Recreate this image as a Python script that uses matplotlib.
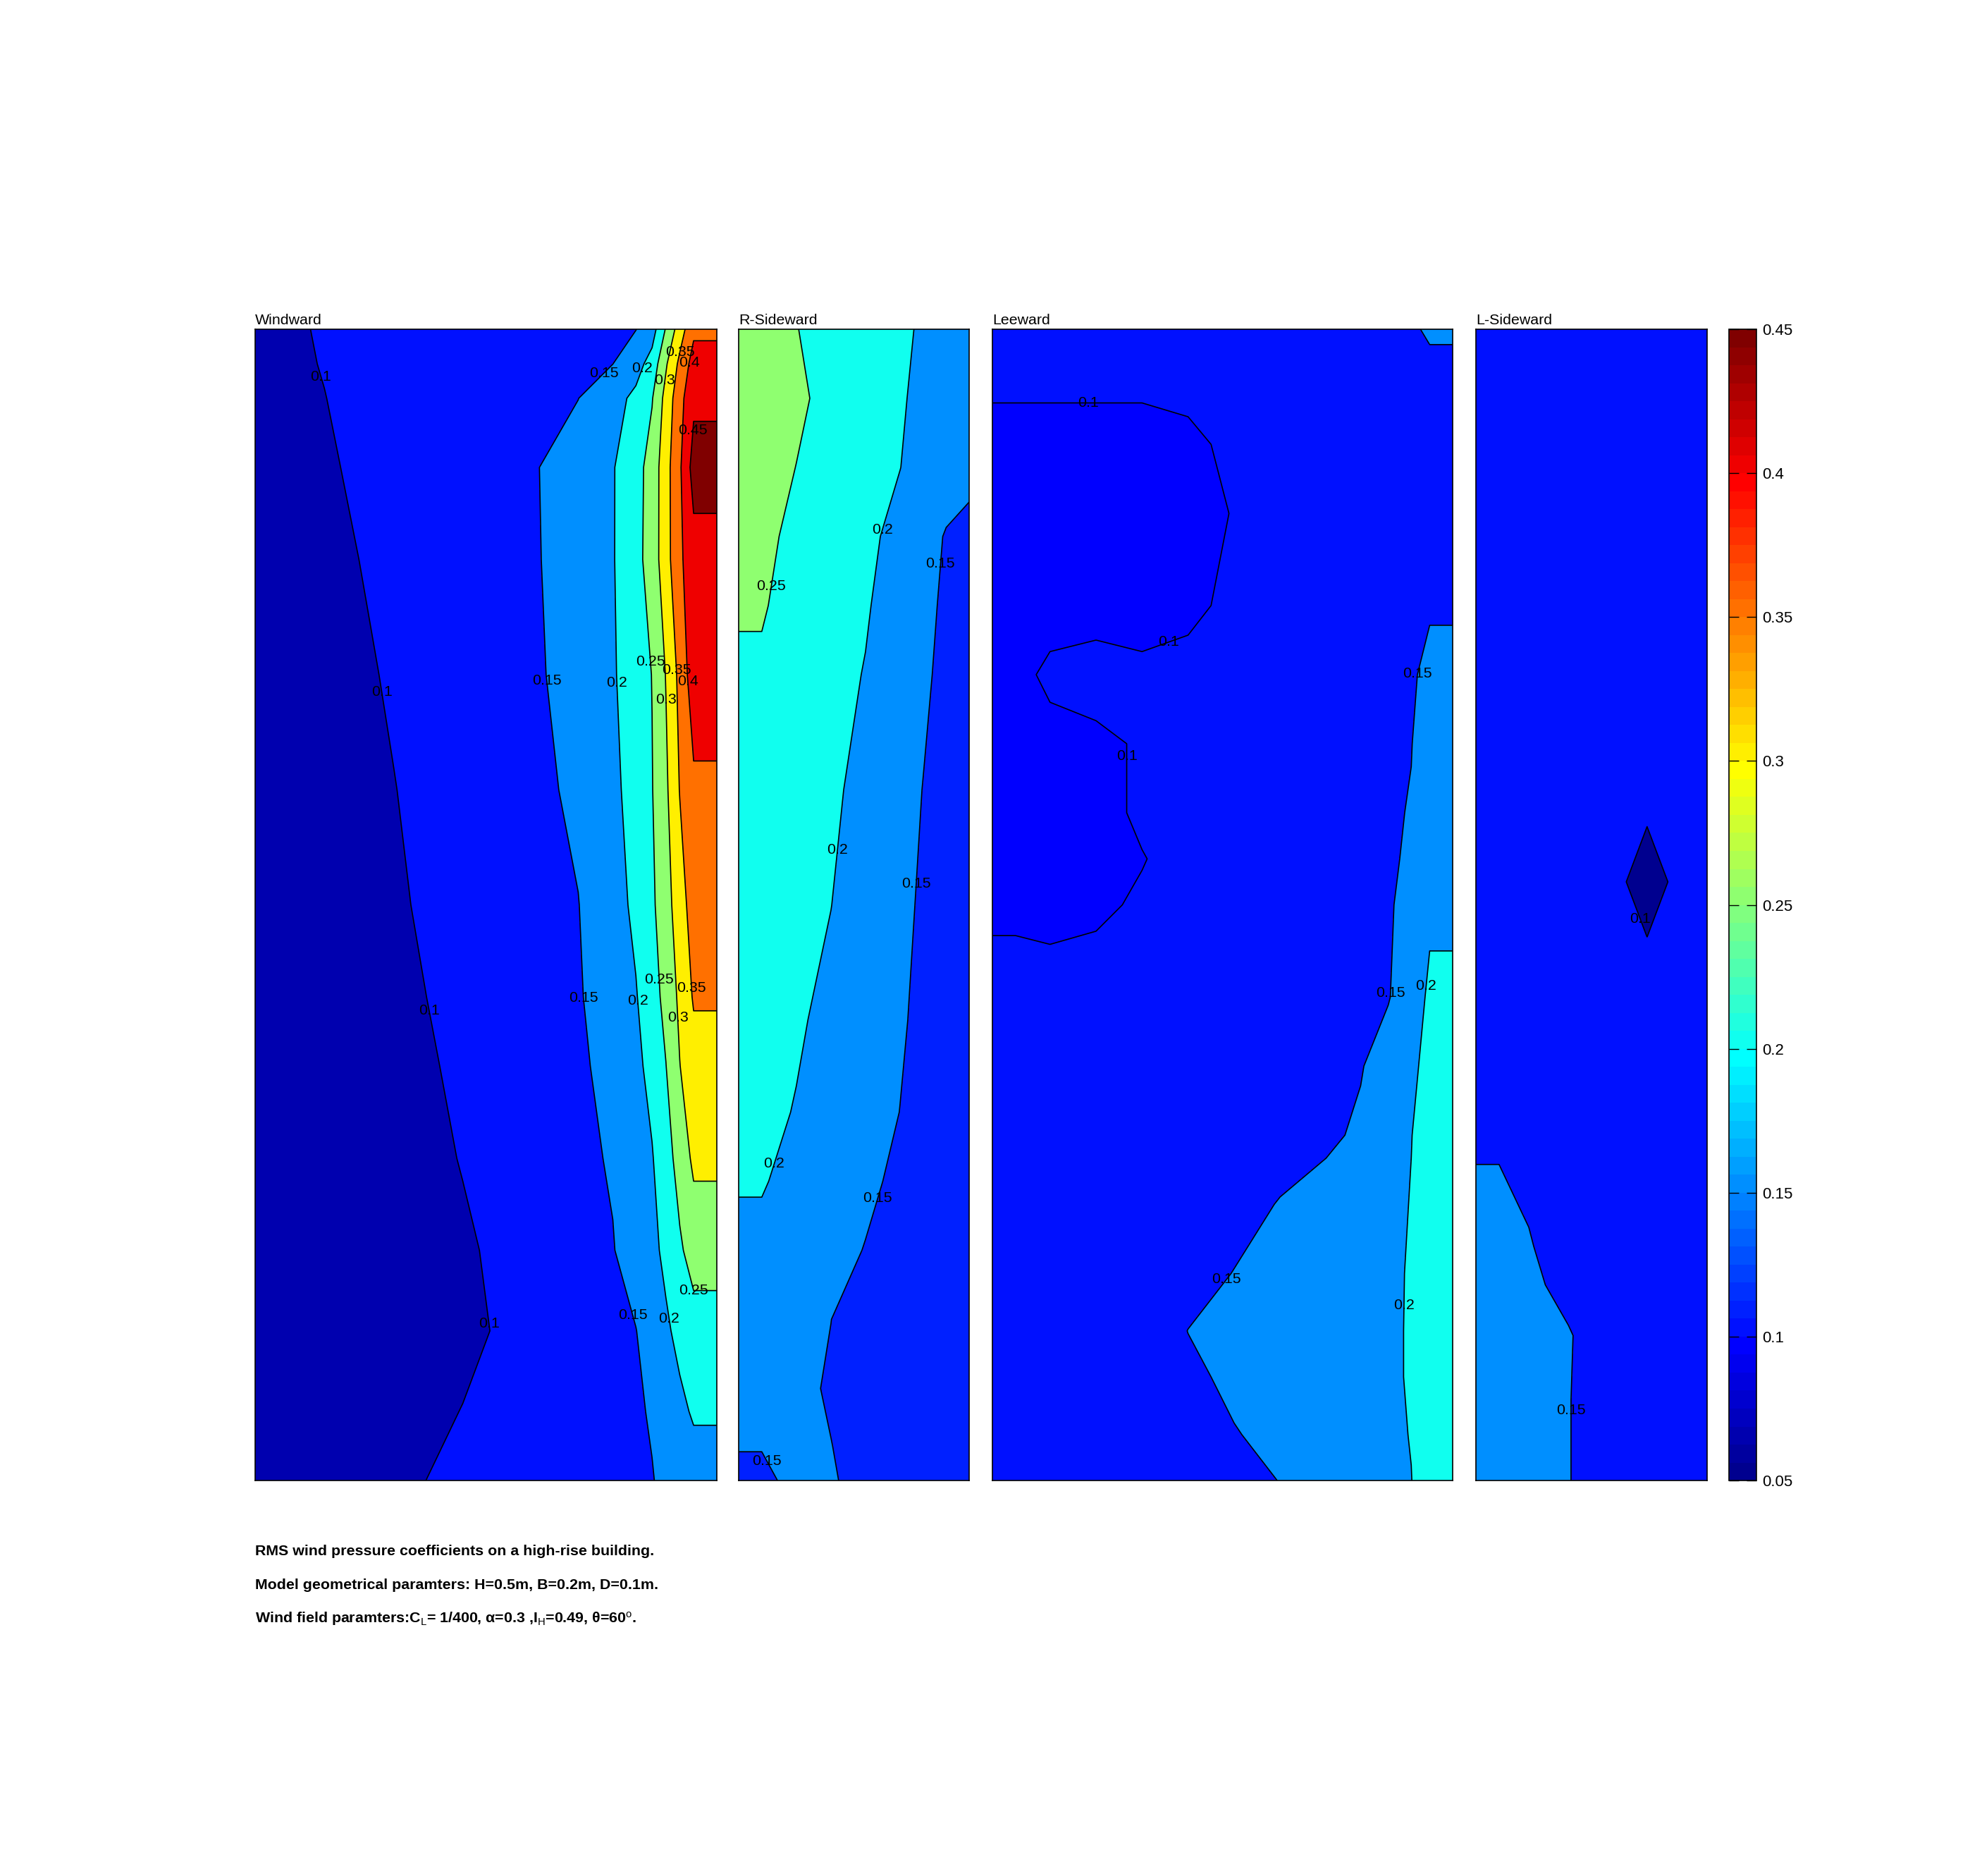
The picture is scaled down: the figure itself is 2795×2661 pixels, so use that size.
import numpy as np
import matplotlib
matplotlib.use("Agg")
import matplotlib.pyplot as plt
from matplotlib.colors import ListedColormap, Normalize
from matplotlib.cm import ScalarMappable

plt.rcParams['font.family'] = ['Liberation Sans', 'DejaVu Sans']
plt.rcParams['mathtext.fontset'] = 'custom'
plt.rcParams['mathtext.rm'] = 'Liberation Sans'
plt.rcParams['mathtext.it'] = 'Liberation Sans:italic'
plt.rcParams['mathtext.bf'] = 'Liberation Sans:bold'

# ---------------- data ----------------
H, B, D = 0.5, 0.2, 0.1
LEVELS = [0.1, 0.15, 0.2, 0.25, 0.3, 0.35, 0.4, 0.45]
CLIM = (0.05, 0.45)
CBAR_TICKS = [0.05, 0.1, 0.15, 0.2, 0.25, 0.3, 0.35, 0.4, 0.45]

# Windward face (x across width B, y up height H)
ww_x = [0, 0.03, 0.06, 0.09, 0.12, 0.14, 0.155, 0.165, 0.172, 0.178, 0.184, 0.19, 0.2]
ww_y = [0, 0.03, 0.065, 0.1, 0.14, 0.18, 0.21, 0.25, 0.3, 0.35, 0.4, 0.44, 0.47, 0.485, 0.5]
ww_z = [
    [0.066, 0.077, 0.093, 0.108, 0.123, 0.133, 0.141, 0.146, 0.149, 0.155, 0.165, 0.180, 0.180],
    [0.066, 0.070, 0.083, 0.101, 0.119, 0.132, 0.141, 0.147, 0.152, 0.165, 0.190, 0.205, 0.205],
    [0.064, 0.066, 0.067, 0.091, 0.114, 0.130, 0.141, 0.149, 0.171, 0.193, 0.212, 0.230, 0.230],
    [0.064, 0.066, 0.070, 0.094, 0.119, 0.135, 0.148, 0.170, 0.189, 0.210, 0.243, 0.270, 0.270],
    [0.064, 0.066, 0.079, 0.102, 0.125, 0.140, 0.154, 0.179, 0.197, 0.230, 0.269, 0.310, 0.310],
    [0.064, 0.066, 0.086, 0.107, 0.129, 0.143, 0.163, 0.189, 0.214, 0.249, 0.299, 0.330, 0.330],
    [0.066, 0.068, 0.090, 0.111, 0.132, 0.146, 0.173, 0.197, 0.229, 0.265, 0.310, 0.355, 0.355],
    [0.066, 0.074, 0.095, 0.115, 0.135, 0.149, 0.181, 0.210, 0.241, 0.281, 0.326, 0.375, 0.375],
    [0.066, 0.079, 0.099, 0.119, 0.139, 0.158, 0.189, 0.219, 0.248, 0.291, 0.352, 0.390, 0.390],
    [0.066, 0.085, 0.104, 0.123, 0.143, 0.166, 0.195, 0.226, 0.251, 0.302, 0.364, 0.430, 0.430],
    [0.074, 0.091, 0.109, 0.127, 0.145, 0.170, 0.197, 0.234, 0.272, 0.330, 0.391, 0.430, 0.430],
    [0.080, 0.096, 0.113, 0.129, 0.146, 0.171, 0.197, 0.232, 0.270, 0.331, 0.393, 0.470, 0.470],
    [0.086, 0.0995, 0.114, 0.127, 0.141, 0.1495, 0.183, 0.211, 0.247, 0.317, 0.383, 0.440, 0.440],
    [0.0895, 0.1012, 0.1128, 0.1244, 0.136, 0.1438, 0.1496, 0.181, 0.219, 0.294, 0.362, 0.420, 0.420],
    [0.092, 0.102, 0.113, 0.123, 0.133, 0.140, 0.145, 0.149, 0.178, 0.254, 0.325, 0.390, 0.390],
]

# R-Sideward face (width D)
rs_x = [0, 0.01, 0.025, 0.04, 0.055, 0.07, 0.08, 0.09, 0.1]
rs_y = [0, 0.015, 0.04, 0.07, 0.1, 0.13, 0.16, 0.2, 0.25, 0.3, 0.35, 0.38, 0.41, 0.44, 0.47, 0.5]
rs_z = [
    [0.145, 0.145, 0.156, 0.152, 0.143, 0.135, 0.128, 0.122, 0.118],
    [0.151, 0.151, 0.153, 0.1505, 0.140, 0.132, 0.126, 0.120, 0.117],
    [0.165, 0.165, 0.157, 0.147, 0.138, 0.130, 0.124, 0.118, 0.115],
    [0.180, 0.180, 0.165, 0.1502, 0.136, 0.125, 0.118, 0.112, 0.110],
    [0.190, 0.190, 0.176, 0.163, 0.1485, 0.135, 0.125, 0.115, 0.110],
    [0.203, 0.203, 0.188, 0.173, 0.158, 0.142, 0.132, 0.122, 0.115],
    [0.210, 0.210, 0.198, 0.182, 0.166, 0.1496, 0.139, 0.128, 0.120],
    [0.215, 0.215, 0.205, 0.190, 0.172, 0.154, 0.142, 0.130, 0.125],
    [0.225, 0.225, 0.2125, 0.2005, 0.1795, 0.159, 0.145, 0.132, 0.125],
    [0.235, 0.235, 0.221, 0.207, 0.188, 0.165, 0.1492, 0.135, 0.130],
    [0.245, 0.245, 0.230, 0.214, 0.198, 0.173, 0.1565, 0.140, 0.135],
    [0.253, 0.253, 0.237, 0.220, 0.204, 0.179, 0.161, 0.143, 0.135],
    [0.258, 0.258, 0.242, 0.226, 0.209, 0.188, 0.167, 0.147, 0.140],
    [0.266, 0.266, 0.2495, 0.233, 0.2165, 0.2005, 0.185, 0.170, 0.160],
    [0.275, 0.275, 0.257, 0.239, 0.221, 0.2036, 0.1917, 0.180, 0.175],
    [0.276, 0.276, 0.251, 0.236, 0.221, 0.206, 0.196, 0.186, 0.180],
]

# Leeward face (width B)
lw_x = [0, 0.01, 0.025, 0.045, 0.065, 0.085, 0.105, 0.125, 0.145, 0.16, 0.172, 0.182, 0.19, 0.2]
lw_y = [0, 0.02, 0.045, 0.065, 0.09, 0.12, 0.15, 0.18, 0.21, 0.25, 0.27, 0.29, 0.32, 0.35,
        0.38, 0.42, 0.45, 0.48, 0.5]
lw_z = [
    [0.104, 0.104, 0.105, 0.107, 0.111, 0.120, 0.135, 0.151, 0.164, 0.174, 0.186, 0.199, 0.230, 0.230],
    [0.105, 0.105, 0.106, 0.109, 0.115, 0.130, 0.148, 0.160, 0.170, 0.178, 0.188, 0.202, 0.230, 0.230],
    [0.106, 0.106, 0.108, 0.112, 0.120, 0.142, 0.158, 0.166, 0.174, 0.181, 0.190, 0.205, 0.230, 0.230],
    [0.107, 0.107, 0.109, 0.114, 0.125, 0.1505, 0.160, 0.168, 0.176, 0.183, 0.190, 0.205, 0.230, 0.230],
    [0.108, 0.108, 0.110, 0.114, 0.122, 0.135, 0.151, 0.162, 0.172, 0.180, 0.188, 0.205, 0.228, 0.228],
    [0.108, 0.108, 0.109, 0.111, 0.115, 0.122, 0.136, 0.152, 0.162, 0.172, 0.185, 0.202, 0.225, 0.225],
    [0.106, 0.106, 0.107, 0.108, 0.111, 0.116, 0.123, 0.133, 0.144, 0.155, 0.172, 0.199, 0.220, 0.220],
    [0.105, 0.105, 0.106, 0.107, 0.109, 0.113, 0.118, 0.126, 0.137, 0.148, 0.165, 0.190, 0.215, 0.215],
    [0.104, 0.104, 0.104, 0.105, 0.107, 0.110, 0.115, 0.122, 0.132, 0.143, 0.148, 0.170, 0.210, 0.210],
    [0.098, 0.098, 0.097, 0.098, 0.1015, 0.106, 0.112, 0.120, 0.130, 0.140, 0.148, 0.156, 0.190, 0.190],
    [0.095, 0.095, 0.095, 0.096, 0.0995, 0.104, 0.110, 0.117, 0.127, 0.137, 0.146, 0.154, 0.180, 0.180],
    [0.095, 0.095, 0.095, 0.096, 0.102, 0.105, 0.110, 0.116, 0.125, 0.136, 0.145, 0.152, 0.172, 0.172],
    [0.096, 0.096, 0.097, 0.098, 0.101, 0.104, 0.109, 0.115, 0.123, 0.133, 0.142, 0.149, 0.168, 0.168],
    [0.097, 0.097, 0.102, 0.104, 0.102, 0.104, 0.108, 0.113, 0.120, 0.130, 0.140, 0.145, 0.160, 0.160],
    [0.095, 0.095, 0.096, 0.096, 0.096, 0.097, 0.103, 0.108, 0.115, 0.122, 0.130, 0.138, 0.146, 0.146],
    [0.095, 0.095, 0.095, 0.095, 0.095, 0.096, 0.1005, 0.106, 0.111, 0.116, 0.120, 0.125, 0.130, 0.130],
    [0.097, 0.097, 0.097, 0.097, 0.097, 0.098, 0.102, 0.108, 0.113, 0.118, 0.122, 0.126, 0.130, 0.130],
    [0.102, 0.102, 0.102, 0.102, 0.102, 0.103, 0.106, 0.111, 0.116, 0.121, 0.127, 0.134, 0.140, 0.140],
    [0.104, 0.104, 0.105, 0.106, 0.108, 0.110, 0.113, 0.117, 0.122, 0.128, 0.135, 0.145, 0.155, 0.155],
]

# L-Sideward face (width D)
ls_x = [0, 0.01, 0.025, 0.04, 0.05, 0.062, 0.074, 0.086, 0.093, 0.1]
ls_y = [0, 0.035, 0.063, 0.085, 0.11, 0.16, 0.2, 0.228, 0.26, 0.292, 0.35, 0.5]
ls_z = [
    [0.160, 0.160, 0.156, 0.1505, 0.146, 0.140, 0.135, 0.132, 0.130, 0.130],
    [0.160, 0.160, 0.156, 0.1505, 0.146, 0.140, 0.135, 0.132, 0.130, 0.130],
    [0.160, 0.160, 0.156, 0.151, 0.146, 0.140, 0.135, 0.132, 0.130, 0.130],
    [0.158, 0.158, 0.152, 0.146, 0.142, 0.138, 0.135, 0.132, 0.130, 0.130],
    [0.156, 0.156, 0.149, 0.144, 0.140, 0.137, 0.134, 0.131, 0.130, 0.130],
    [0.145, 0.145, 0.142, 0.139, 0.136, 0.134, 0.132, 0.130, 0.128, 0.128],
    [0.135, 0.135, 0.133, 0.130, 0.127, 0.125, 0.123, 0.122, 0.122, 0.122],
    [0.130, 0.130, 0.128, 0.125, 0.120, 0.116, 0.115, 0.116, 0.118, 0.118],
    [0.128, 0.128, 0.126, 0.122, 0.118, 0.115, 0.055, 0.115, 0.117, 0.117],
    [0.127, 0.127, 0.125, 0.122, 0.120, 0.117, 0.115, 0.117, 0.118, 0.118],
    [0.125, 0.125, 0.124, 0.122, 0.120, 0.120, 0.120, 0.120, 0.120, 0.120],
    [0.120, 0.120, 0.120, 0.120, 0.120, 0.120, 0.120, 0.120, 0.120, 0.120],
]

face_titles = ["Windward", "R-Sideward", "Leeward", "L-Sideward"]
caption_lines = [
    "RMS wind pressure coefficients on a high-rise building.",
    "Model geometrical paramters: H=0.5m, B=0.2m, D=0.1m.",
    "Wind field paramters:C$_\\mathrm{L}$= 1/400, \u03b1=0.3 ,I$_\\mathrm{H}$=0.49, \u03b8=60$^\\mathrm{o}$.",
]

# ---------------- layout (label anchor points, axes boxes) ----------------
ww_labels = [(0.0272, 0.479), (0.151, 0.481), (0.1675, 0.483), (0.1795, 0.4776), (0.186, 0.4896),
             (0.1887, 0.4853), (0.1896, 0.456), (0.0586, 0.343), (0.1328, 0.348), (0.1579, 0.3466),
             (0.171, 0.3555), (0.1823, 0.352), (0.1884, 0.347), (0.1762, 0.339), (0.0785, 0.2048),
             (0.146, 0.21), (0.167, 0.2085), (0.1753, 0.2177), (0.1905, 0.214), (0.1835, 0.2009),
             (0.1017, 0.0683), (0.1643, 0.072), (0.180, 0.0704), (0.189, 0.0796)]
rs_labels = [(0.0159, 0.388), (0.0654, 0.412), (0.0884, 0.398), (0.0431, 0.274), (0.078, 0.259),
             (0.0159, 0.1375), (0.0627, 0.1218), (0.0147, 0.0098)]
lw_labels = [(0.0416, 0.4666), (0.0775, 0.3613), (0.0573, 0.3145), (0.1862, 0.35), (0.172, 0.2119),
             (0.189, 0.2146), (0.1023, 0.087), (0.1798, 0.076)]
ls_labels = [(0.0665, 0.242), (0.0405, 0.0306)]

AX_BOTTOM, AX_HEIGHT = 0.2108, 0.6137
boxes = [(0.1295, 0.2343), (0.375, 0.1170), (0.5038, 0.2336), (0.7492, 0.1174)]
FS = 7.7


def matlab_jet(m=64):
    n = int(np.ceil(m / 4))
    u = np.concatenate([np.arange(1, n + 1) / n, np.ones(n - 1), np.arange(n, 0, -1) / n])
    g = int(np.ceil(n / 2)) - (1 if m % 4 == 1 else 0) + np.arange(1, len(u) + 1)
    r = g + n
    b = g - n
    J = np.zeros((m, 3))
    J[r[r <= m] - 1, 0] = u[r <= m]
    J[g[g <= m] - 1, 1] = u[g <= m]
    J[b[b >= 1] - 1, 2] = u[b >= 1]
    return J


JET = matlab_jet(64)


def band_color(v):
    idx = int(np.floor((v - CLIM[0]) / (CLIM[1] - CLIM[0]) * len(JET) + 1e-9))
    idx = min(max(idx, 0), len(JET) - 1)
    return tuple(JET[idx])


def draw_face(ax, x, y, z, width, title, label_pos):
    Z = np.asarray(z, dtype=float)
    zmin, zmax = Z.min(), Z.max()
    lv = [l for l in LEVELS if zmin < l < zmax]
    bounds = [zmin - 1e-6] + lv + [zmax + 1e-6]
    cols = [band_color(zmin)] + [band_color(l) for l in lv]
    ax.contourf(x, y, Z, levels=bounds, colors=cols, antialiased=False)
    cs = ax.contour(x, y, Z, levels=lv, colors='k', linewidths=0.6)
    texts = ax.clabel(cs, manual=label_pos, inline=False, fontsize=FS, fmt='%g', colors='k')
    for t in texts:
        t.set_rotation(0)
    ax.set_xlim(0, width)
    ax.set_ylim(0, H)
    ax.set_xticks([])
    ax.set_yticks([])
    for s in ax.spines.values():
        s.set_linewidth(0.6)
        s.set_color('k')
    ax.set_title(title, loc='left', fontsize=FS, pad=2.5)


fig = plt.figure(figsize=(13.975, 13.305), dpi=200)
faces = [(ww_x, ww_y, ww_z, B, ww_labels), (rs_x, rs_y, rs_z, D, rs_labels),
         (lw_x, lw_y, lw_z, B, lw_labels), (ls_x, ls_y, ls_z, D, ls_labels)]
for (left, w), (x, y, z, width, lab), title in zip(boxes, faces, face_titles):
    ax = fig.add_axes([left, AX_BOTTOM, w, AX_HEIGHT])
    draw_face(ax, x, y, z, width, title, lab)

cax = fig.add_axes([0.8776, AX_BOTTOM, 0.01395, AX_HEIGHT])
sm = ScalarMappable(norm=Normalize(*CLIM), cmap=ListedColormap(JET))
cb = fig.colorbar(sm, cax=cax, ticks=CBAR_TICKS)
cb.ax.set_yticklabels(['%g' % t for t in CBAR_TICKS])
cb.ax.tick_params(direction='in', length=5, width=0.5, left=True, right=True,
                  labelleft=False, labelright=True, labelsize=8, pad=3)
cb.outline.set_linewidth(0.6)

for txt, yy in zip(caption_lines, [0.171, 0.153, 0.135]):
    fig.text(0.1295, yy, txt, fontsize=FS, fontweight='bold', va='baseline', ha='left')

fig.savefig('out.png', dpi=200, facecolor='white')
